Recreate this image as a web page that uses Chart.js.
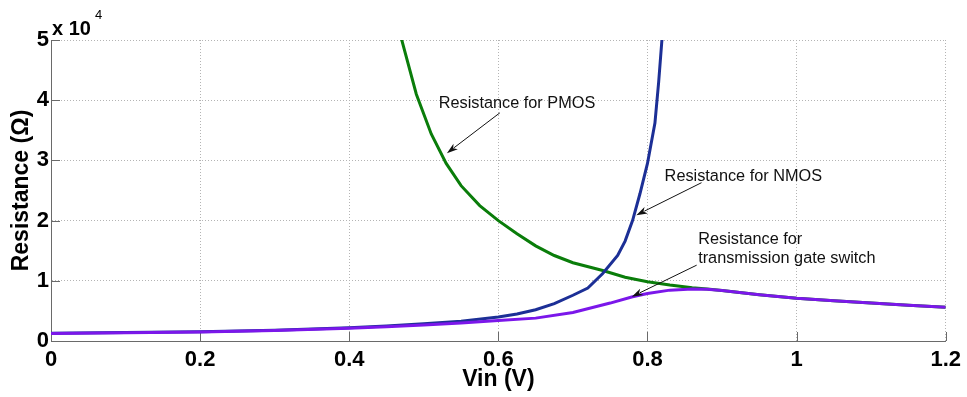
<!DOCTYPE html>
<html>
<head>
<meta charset="utf-8">
<title>Resistance vs Vin</title>
<script src="https://cdn.jsdelivr.net/npm/chart.js@4/dist/chart.umd.min.js"></script>
<style>
  html, body { margin: 0; padding: 0; background: #ffffff; }
  #wrap { width: 967px; height: 397px; position: relative; }
</style>
</head>
<body>
<div id="wrap"><canvas id="chart"></canvas></div>
<script>
// Input voltage sweep (V) and resistance (Ω) for each device
const pmosVin = [0.46, 0.47, 0.49, 0.51, 0.53, 0.55, 0.575, 0.6, 0.625, 0.65, 0.675, 0.7, 0.74, 0.77, 0.8, 0.83, 0.86, 0.88, 0.9, 0.95, 1.0, 1.05, 1.1, 1.15, 1.2];
const pmosRes = [55500, 50200, 41000, 34400, 29500, 25800, 22500, 20000, 17800, 15800, 14200, 13000, 11700, 10600, 9850, 9300, 8850, 8620, 8400, 7700, 7100, 6700, 6300, 5950, 5600];

const nmosVin = [0, 0.1, 0.2, 0.3, 0.4, 0.45, 0.5, 0.55, 0.6, 0.625, 0.65, 0.675, 0.7, 0.72, 0.74, 0.76, 0.77, 0.78, 0.79, 0.8, 0.81, 0.815, 0.82, 0.825];
const nmosRes = [1300, 1400, 1550, 1800, 2200, 2500, 2850, 3300, 4000, 4500, 5200, 6200, 7600, 8800, 11200, 14200, 16600, 20000, 24500, 29500, 36200, 43000, 51000, 59000];

const tgVin = [0, 0.1, 0.2, 0.3, 0.4, 0.45, 0.5, 0.55, 0.6, 0.65, 0.7, 0.75, 0.78, 0.8, 0.83, 0.86, 0.88, 0.9, 0.95, 1.0, 1.05, 1.1, 1.15, 1.2];
const tgRes = [1250, 1350, 1500, 1750, 2100, 2350, 2650, 3000, 3400, 3800, 4750, 6300, 7350, 7900, 8450, 8620, 8580, 8380, 7700, 7100, 6700, 6300, 5950, 5600];

// Axis ticks
const xTickValues = [0, 0.2, 0.4, 0.6, 0.8, 1, 1.2];
const xTickLabels = ['0', '0.2', '0.4', '0.6', '0.8', '1', '1.2'];
const yTickValues = [0, 10000, 20000, 30000, 40000, 50000];
const yTickLabels = ['0', '1', '2', '3', '4', '5'];

const toPoints = (xs, ys) => xs.map((x, i) => ({ x: x, y: ys[i] }));

const FONT = '"Liberation Sans", Arial, Helvetica, sans-serif';
const AXIS_COLOR = '#6a6a6a';

// Callout texts with arrows (data coordinates)
const callouts = [
  { lines: ['Resistance for PMOS'], x: 0.520, y: 39400, from: [0.602, 37900], to: [0.531, 31200] },
  { lines: ['Resistance for NMOS'], x: 0.823, y: 27400, from: [0.8725, 26300], to: [0.785, 20900] },
  { lines: ['Resistance for', 'transmission gate switch'], x: 0.868, y: 16800, from: [0.866, 12600], to: [0.779, 7360] }
];

function drawArrow(ctx, x1, y1, x2, y2) {
  const ang = Math.atan2(y2 - y1, x2 - x1);
  const len = 11, half = 3.6;
  const bx = x2 - len * Math.cos(ang), by = y2 - len * Math.sin(ang);
  ctx.beginPath();
  ctx.moveTo(x1, y1);
  ctx.lineTo(bx + 2 * Math.cos(ang), by + 2 * Math.sin(ang));
  ctx.stroke();
  ctx.beginPath();
  ctx.moveTo(x2, y2);
  ctx.lineTo(bx - half * Math.sin(ang), by + half * Math.cos(ang));
  ctx.lineTo(bx + 3 * Math.cos(ang), by + 3 * Math.sin(ang));
  ctx.lineTo(bx + half * Math.sin(ang), by - half * Math.cos(ang));
  ctx.closePath();
  ctx.fill();
}

const decorations = {
  id: 'decorations',
  beforeDatasetsDraw(chart) {
    // inward tick marks
    const { ctx, chartArea: a, scales: { x, y } } = chart;
    ctx.save();
    ctx.strokeStyle = AXIS_COLOR;
    ctx.lineWidth = 1;
    ctx.beginPath();
    xTickValues.forEach(v => {
      const px = Math.round(x.getPixelForValue(v)) + 0.5;
      ctx.moveTo(px, a.bottom);
      ctx.lineTo(px, a.bottom - 9);
    });
    yTickValues.forEach(v => {
      const py = Math.round(y.getPixelForValue(v)) + 0.5;
      ctx.moveTo(a.left, py);
      ctx.lineTo(a.left + 9, py);
    });
    ctx.stroke();
    ctx.restore();
  },
  afterDraw(chart) {
    const { ctx, chartArea: a, scales: { x, y } } = chart;
    ctx.save();
    // exponent label for the y axis
    ctx.fillStyle = '#000000';
    ctx.textBaseline = 'alphabetic';
    ctx.textAlign = 'left';
    ctx.font = 'bold 20px ' + FONT;
    const base = 'x 10';
    ctx.fillText(base, a.left + 1, 35);
    const w = ctx.measureText(base).width;
    ctx.font = '13px ' + FONT;
    ctx.fillText('4', a.left + 5 + w, 19);

    // callouts
    ctx.font = '16.3px ' + FONT;
    ctx.textBaseline = 'middle';
    ctx.fillStyle = '#111111';
    ctx.strokeStyle = '#111111';
    ctx.lineWidth = 1;
    callouts.forEach(c => {
      const tx = x.getPixelForValue(c.x);
      const ty = y.getPixelForValue(c.y);
      c.lines.forEach((t, i) => ctx.fillText(t, tx, ty + i * 18.5));
      drawArrow(ctx,
        x.getPixelForValue(c.from[0]), y.getPixelForValue(c.from[1]),
        x.getPixelForValue(c.to[0]), y.getPixelForValue(c.to[1]));
    });
    ctx.restore();
  }
};

const lineStyle = { borderWidth: 3, pointRadius: 0, tension: 0, fill: false, clip: 0 };

new Chart(document.getElementById('chart'), {
  type: 'line',
  data: {
    datasets: [
      Object.assign({ label: 'Transmission gate', data: toPoints(tgVin, tgRes), borderColor: '#7b17ea', order: 0 }, lineStyle),
      Object.assign({ label: 'NMOS', data: toPoints(nmosVin, nmosRes), borderColor: '#1c2f96', order: 1 }, lineStyle),
      Object.assign({ label: 'PMOS', data: toPoints(pmosVin, pmosRes), borderColor: '#0a7d0a', order: 2 }, lineStyle)
    ]
  },
  options: {
    responsive: true,
    maintainAspectRatio: false,
    animation: false,
    devicePixelRatio: 1,
    layout: { padding: { top: 40, right: 21, left: 0, bottom: 0 } },
    plugins: { legend: { display: false }, tooltip: { enabled: false } },
    scales: {
      x: {
        type: 'linear',
        min: 0, max: 1.2,
        afterBuildTicks: s => { s.ticks = xTickValues.map(v => ({ value: v })); },
        afterFit: s => { s.height = 56; },
        ticks: {
          autoSkip: false, maxRotation: 0, padding: 6, color: '#000000',
          font: { family: FONT, size: 22, weight: 'bold' },
          callback: (v, i) => xTickLabels[i]
        },
        grid: { color: '#b4b4b4', lineWidth: 1, drawTicks: false },
        border: { display: true, color: AXIS_COLOR, width: 1, dash: [1, 2] },
        title: {
          display: true, text: 'Vin (V)', color: '#000000',
          font: { family: FONT, size: 23, weight: 'bold' },
          padding: { top: 0, bottom: 4 }
        }
      },
      y: {
        type: 'linear',
        min: 0, max: 50000,
        afterBuildTicks: s => { s.ticks = yTickValues.map(v => ({ value: v })); },
        afterFit: s => { s.width = 51; },
        ticks: {
          autoSkip: false, padding: 2, color: '#000000',
          font: { family: FONT, size: 22, weight: 'bold' },
          callback: (v, i) => yTickLabels[i]
        },
        grid: { color: '#b4b4b4', lineWidth: 1, drawTicks: false },
        border: { display: true, color: AXIS_COLOR, width: 1, dash: [1, 2] },
        title: {
          display: true, text: 'Resistance (Ω)', color: '#000000',
          font: { family: FONT, size: 23, weight: 'bold' },
          padding: { top: 8.2, bottom: 0 }
        }
      }
    }
  },
  plugins: [decorations]
});
</script>
</body>
</html>
